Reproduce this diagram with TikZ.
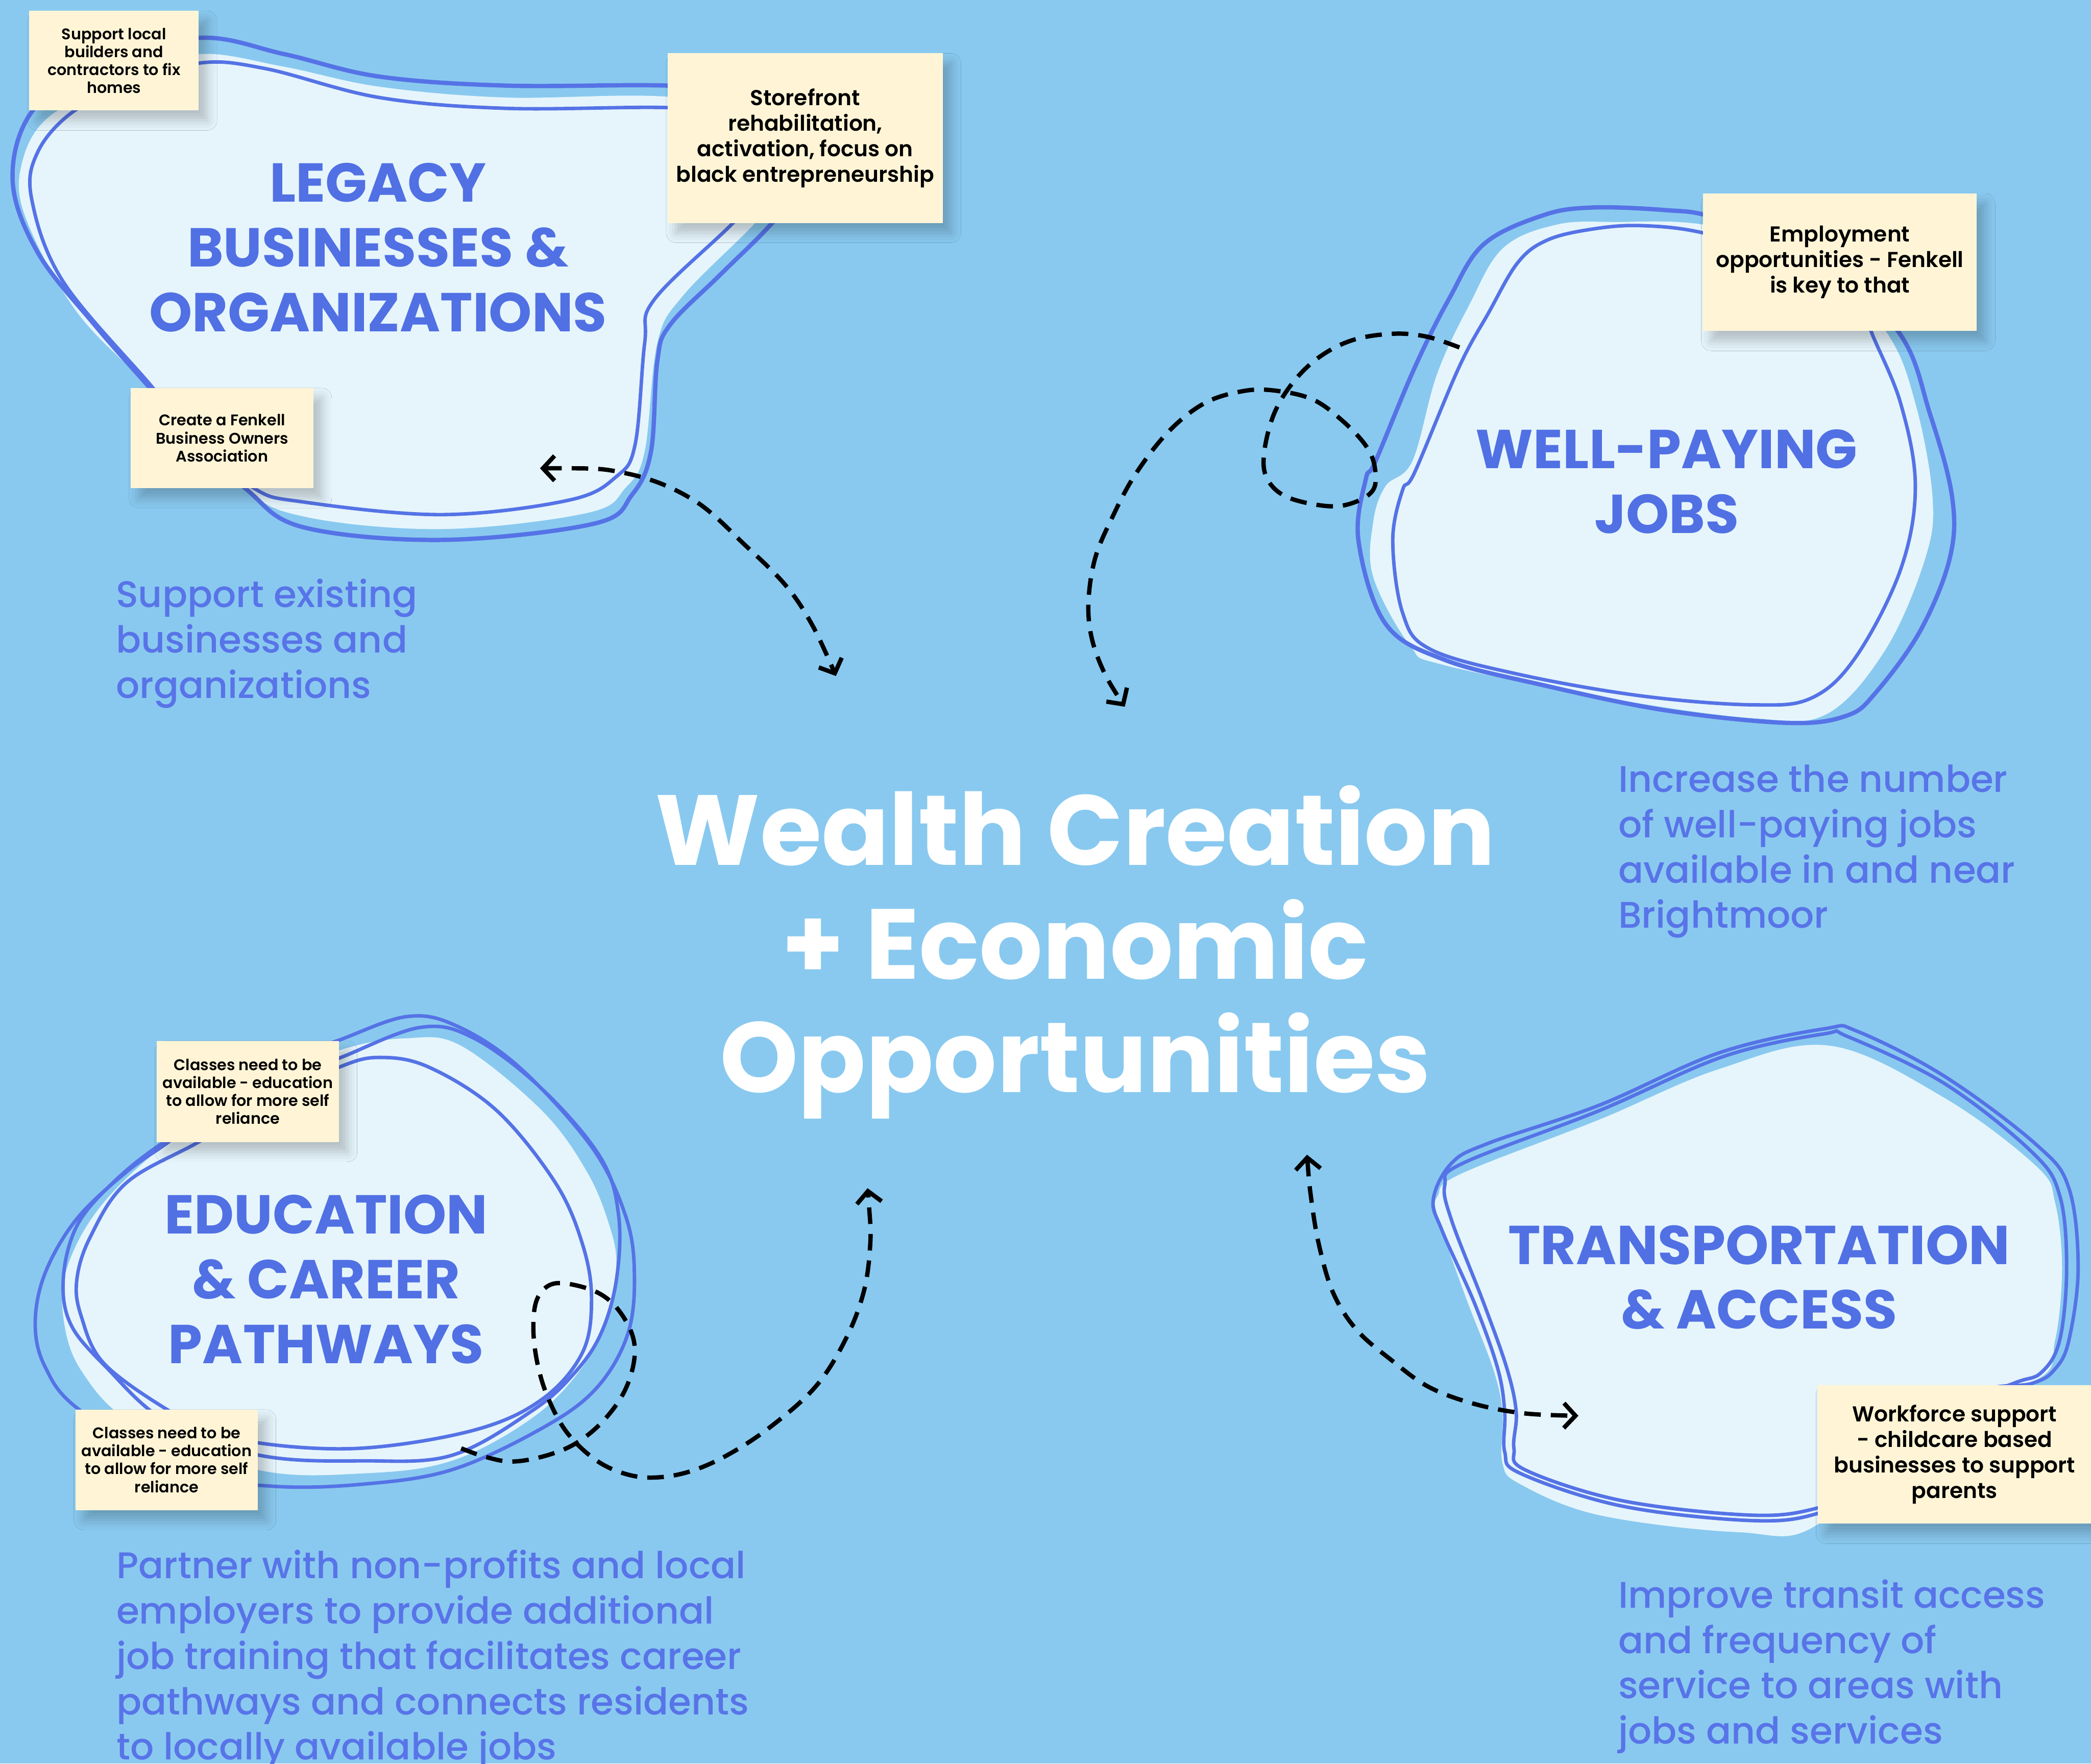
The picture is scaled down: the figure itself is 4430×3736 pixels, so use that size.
\documentclass[tikz,border=0pt]{standalone}
\usepackage{fontspec}
\setmainfont{Poppins}
\newfontfamily\popmedium{Poppins Medium}
\newfontfamily\popsemibold{Poppins SemiBold}
\usetikzlibrary{arrows.meta,shadows.blur}

\definecolor{bgblue}{HTML}{89C9EF}
\definecolor{blobfill}{HTML}{E6F5FC}
\definecolor{blobline}{HTML}{5573E6}
\definecolor{labelblue}{HTML}{5070E4}
\definecolor{descblue}{HTML}{5874E8}
\definecolor{notefill}{HTML}{FFF5D6}

\tikzset{
  blobarea/.style={fill=blobfill, draw=none},
  blobouter/.style={draw=blobline, line width=2.6pt},
  blobinner/.style={draw=blobline, line width=2.1pt},
  note/.style={fill=notefill, draw=none, align=center, inner sep=0pt,
    blur shadow={shadow xshift=5pt, shadow yshift=-6pt, shadow blur radius=6pt, shadow opacity=22}},
  smallnote/.style={note, font=\popsemibold\fontsize{9.3}{10.8}\selectfont},
  bignote/.style={note, font=\popsemibold\fontsize{13}{15.4}\selectfont},
  blobtitle/.style={inner sep=0pt, anchor=base, text=labelblue, font=\bfseries\fontsize{33}{39}\selectfont},
  desc/.style={inner sep=0pt, anchor=base west, text=descblue, font=\popmedium\fontsize{22.3}{27.3}\selectfont},
  flow/.style={draw=black, line width=2.6pt, dash pattern=on 10pt off 6pt},
  >={Straight Barb[length=7pt,width=15pt]}
}

\begin{document}
\begin{tikzpicture}[x=0.01cm, y=-0.01cm]
\useasboundingbox (0,0) rectangle (4430,3736);
\fill[bgblue] (0,0) rectangle (4430,3736);
\clip (0,0) rectangle (4430,3736);

% ---------- Legacy businesses blob ----------
\begin{scope}[xscale=1.339, yscale=0.765]
  \path[blobarea] plot[smooth cycle, tension=0.6] coordinates {(80,320) (200,220) (314,150) (450,185) (600,240) (800,270) (1057,268) (1250,330) (1260,480) (1195,617) (1080,820) (1040,950) (1020,1250) (990,1350) (930,1420) (700,1465) (480,1430) (380,1340) (235,1070) (120,860) (40,600) (35,450)};
  \draw[blobouter] plot[smooth cycle, tension=0.6] coordinates {(50,310) (150,180) (314,105) (450,150) (600,212) (800,237) (1057,237) (1250,260) (1300,450) (1222,617) (1140,760) (1060,900) (1040,1000) (1030,1250) (1000,1370) (940,1450) (700,1495) (480,1460) (390,1355) (300,1200) (235,1070) (150,900) (60,700) (20,500)};
  \draw[blobinner] plot[smooth cycle, tension=0.6] coordinates {(115,310) (200,240) (314,175) (420,190) (600,270) (800,300) (1057,298) (1200,320) (1230,480) (1160,617) (1035,830) (1020,950) (1005,1230) (975,1320) (900,1385) (700,1425) (480,1390) (400,1350) (300,1200) (240,1070) (100,780) (50,550) (60,420)};
\end{scope}

% ---------- Well-paying jobs blob ----------
\begin{scope}[shift={(2800,380)}, xscale=1.0395, yscale=0.765]
  \path[blobarea] plot[smooth cycle, tension=0.6] coordinates {(370,190) (480,125) (600,118) (777,125) (1000,200) (1150,421) (1210,620) (1245,880) (1230,1050) (1150,1300) (1030,1480) (880,1492) (600,1440) (250,1345) (180,1290) (105,1100) (105,950) (130,850) (185,780) (235,540) (300,350)};
  \draw[blobouter] plot[smooth cycle, tension=0.6] coordinates {(330,180) (450,100) (550,78) (700,85) (800,105) (1000,200) (1175,421) (1240,650) (1285,880) (1280,1050) (1220,1250) (1130,1420) (1070,1485) (950,1505) (700,1470) (450,1400) (250,1330) (130,1230) (75,1000) (90,830) (110,780) (190,520) (260,330)};
  \draw[blobinner] plot[smooth cycle, tension=0.6] coordinates {(400,230) (460,168) (550,138) (650,128) (777,148) (950,220) (1100,330) (1120,421) (1180,620) (1210,850) (1180,1080) (1090,1320) (1000,1435) (880,1455) (650,1430) (400,1370) (220,1300) (165,1200) (145,1000) (165,860) (190,810) (280,520) (340,370)};
\end{scope}

% ---------- Education blob ----------
\begin{scope}[shift={(0,2100)}, xscale=0.9566, yscale=0.765]
  \path[blobarea] plot[smooth cycle, tension=0.6] coordinates {(760,160) (900,130) (1020,150) (1200,330) (1300,500) (1350,650) (1365,760) (1345,900) (1290,1040) (1180,1180) (1000,1300) (800,1335) (571,1325) (300,1200) (180,1050) (140,900) (150,760) (220,600) (350,440) (550,260)};
  \draw[blobinner] plot[smooth cycle, tension=0.6] coordinates {(751,135) (900,70) (1010,95) (1150,210) (1310,430) (1385,620) (1405,780) (1390,950) (1320,1100) (1200,1210) (1000,1325) (800,1365) (600,1370) (400,1330) (175,1158) (100,1040) (78,920) (100,780) (170,630) (280,500) (370,420) (500,300) (650,180)};
  \draw[blobinner] plot[smooth cycle, tension=0.6] coordinates {(751,185) (930,100) (1050,130) (1200,270) (1330,460) (1370,620) (1365,800) (1330,950) (1270,1060) (1180,1160) (1000,1285) (800,1300) (600,1290) (420,1230) (330,1158) (250,1060) (160,930) (140,800) (170,650) (250,530) (360,420) (500,320) (650,230)};
  \draw[blobinner] plot[smooth cycle, tension=0.6] coordinates {(751,210) (840,183) (950,210) (1100,330) (1230,530) (1290,700) (1310,850) (1290,1000) (1200,1130) (1050,1215) (800,1265) (571,1250) (450,1200) (370,1158) (230,1030) (180,900) (170,800) (200,680) (280,530) (440,417) (600,300)};
\end{scope}

% ---------- Transportation blob ----------
\begin{scope}[shift={(2900,2150)}, xscale=0.9758, yscale=0.765]
  \path[blobarea] plot[smooth cycle, tension=0.6] coordinates {(150,500) (200,440) (500,290) (760,150) (1000,85) (1250,230) (1450,420) (1490,520) (1505,700) (1490,900) (1450,1010) (1200,1100) (975,1410) (800,1432) (500,1385) (330,1300) (290,1240) (290,1100) (270,980) (210,780) (150,560)};
  \draw[blobinner] plot[smooth cycle, tension=0.6] coordinates {(140,510) (180,410) (260,355) (500,250) (760,105) (990,38) (1060,45) (1250,170) (1450,360) (1520,480) (1540,700) (1520,900) (1490,980) (1440,1020) (1300,1060) (1100,1300) (975,1380) (830,1400) (550,1360) (330,1270) (295,1210) (295,1100) (280,980) (230,800) (160,600)};
  \draw[blobinner] plot[smooth cycle, tension=0.6] coordinates {(165,470) (205,410) (500,265) (770,115) (990,52) (1040,60) (1250,190) (1440,380) (1500,500) (1515,700) (1500,900) (1460,990) (1400,1020) (1250,1100) (1100,1300) (975,1365) (830,1385) (550,1345) (340,1260) (315,1200) (320,1100) (300,980) (250,800) (180,570)};
\end{scope}

% ---------- Headings ----------
\node[inner sep=0pt, anchor=base, text=white, font=\bfseries\fontsize{60}{67.7}\selectfont] (title) at (2278,1833)
  {\begin{tabular}[t]{@{}c@{}}Wealth Creation\\+ Economic\\Opportunities\end{tabular}};

\node[blobtitle] (legacy) at (801,428) {\begin{tabular}[t]{@{}c@{}}LEGACY\\BUSINESSES \&\\ORGANIZATIONS\end{tabular}};
\node[blobtitle] (jobs) at (3531,992) {\begin{tabular}[t]{@{}c@{}}WELL-PAYING\\JOBS\end{tabular}};
\node[blobtitle] (edu) at (691,2614) {\begin{tabular}[t]{@{}c@{}}EDUCATION\\\& CAREER\\PATHWAYS\end{tabular}};
\node[blobtitle] (transit) at (3727,2678) {\begin{tabular}[t]{@{}c@{}}TRANSPORTATION\\\& ACCESS\end{tabular}};

% ---------- Goal statements ----------
\node[desc] (d1) at (245,1287) {\begin{tabular}[t]{@{}l@{}}Support existing\\businesses and\\organizations\end{tabular}};
\node[desc] (d2) at (3428,1678) {\begin{tabular}[t]{@{}l@{}}Increase the number\\of well-paying jobs\\available in and near\\Brightmoor\end{tabular}};
\node[desc] (d3) at (246,3344) {\begin{tabular}[t]{@{}l@{}}Partner with non-profits and local\\employers to provide additional\\job training that facilitates career\\pathways and connects residents\\to locally available jobs\end{tabular}};
\node[desc] (d4) at (3428,3406) {\begin{tabular}[t]{@{}l@{}}Improve transit access\\and frequency of\\service to areas with\\jobs and services\end{tabular}};

% ---------- Dashed connectors ----------
\coordinate (a1s) at (1144,992);
\coordinate (a1e) at (1771,1432);
\draw[flow, <->] plot[smooth, tension=0.6] coordinates {(a1s) (1328,1003) (1469,1059) (1582,1158) (1667,1243) (1723,1328) (a1e)};

\coordinate (a2s) at (3092,736);
\coordinate (a2e) at (2383,1497);
\draw[flow, ->] plot[smooth, tension=0.6] coordinates {(a2s) (3022,713) (2951,707) (2867,720) (2797,755) (2741,808) (2699,877) (2678,961) (2685,1015) (2727,1053) (2811,1072) (2867,1065) (2909,1038) (2913,992) (2895,946) (2846,893) (2783,847) (2706,828) (2636,828) (2552,854) (2474,916) (2404,1007) (2355,1099) (2320,1183) (2306,1275) (2313,1352) (2341,1428) (a2e)};

\coordinate (a3s) at (977,3068);
\coordinate (a3e) at (1838,2517);
\draw[flow, ->] plot[smooth, tension=0.6] coordinates {(a3s) (1028,3086) (1085,3096) (1155,3084) (1219,3058) (1276,3012) (1321,2951) (1343,2885) (1340,2829) (1308,2772) (1264,2737) (1200,2719) (1161,2724) (1136,2757) (1130,2818) (1139,2890) (1161,2961) (1200,3033) (1257,3089) (1315,3119) (1378,3130) (1455,3119) (1538,3084) (1633,3022) (1729,2936) (1793,2834) (1831,2732) (1844,2630) (1841,2553) (a3e)};

\coordinate (a4s) at (2769,2446);
\coordinate (a4e) at (3344,2999);
\draw[flow, <->] plot[smooth, tension=0.6] coordinates {(a4s) (2778,2540) (2795,2640) (2825,2740) (2875,2818) (2949,2882) (3027,2938) (3124,2974) (3230,2994) (a4e)};

% ---------- Sticky notes ----------
\node[smallnote, minimum width=3.59cm, minimum height=2.11cm] (n1) at (241.5,128.5) {Support local\\builders and\\contractors to fix\\homes};
\node[bignote, minimum width=5.82cm, minimum height=3.59cm] (n2) at (1706,292.5) {Storefront\\rehabilitation,\\activation, focus on\\black entrepreneurship};
\node[smallnote, minimum width=3.87cm, minimum height=2.12cm] (n3) at (470.5,928) {Create a Fenkell\\Business Owners\\Association};
\node[bignote, minimum width=5.80cm, minimum height=2.91cm] (n4) at (3898,555.5) {Employment\\opportunities - Fenkell\\is key to that};
\node[smallnote, minimum width=3.86cm, minimum height=2.14cm] (n5) at (525,2312) {Classes need to be\\available - education\\to allow for more self\\reliance};
\node[smallnote, minimum width=3.86cm, minimum height=2.13cm] (n6) at (353,3092.5) {Classes need to be\\available - education\\to allow for more self\\reliance};
\node[bignote, minimum width=5.80cm, minimum height=2.93cm] (n7) at (4141,3081) {Workforce support\\- childcare based\\businesses to support\\parents};
\end{tikzpicture}
\end{document}
